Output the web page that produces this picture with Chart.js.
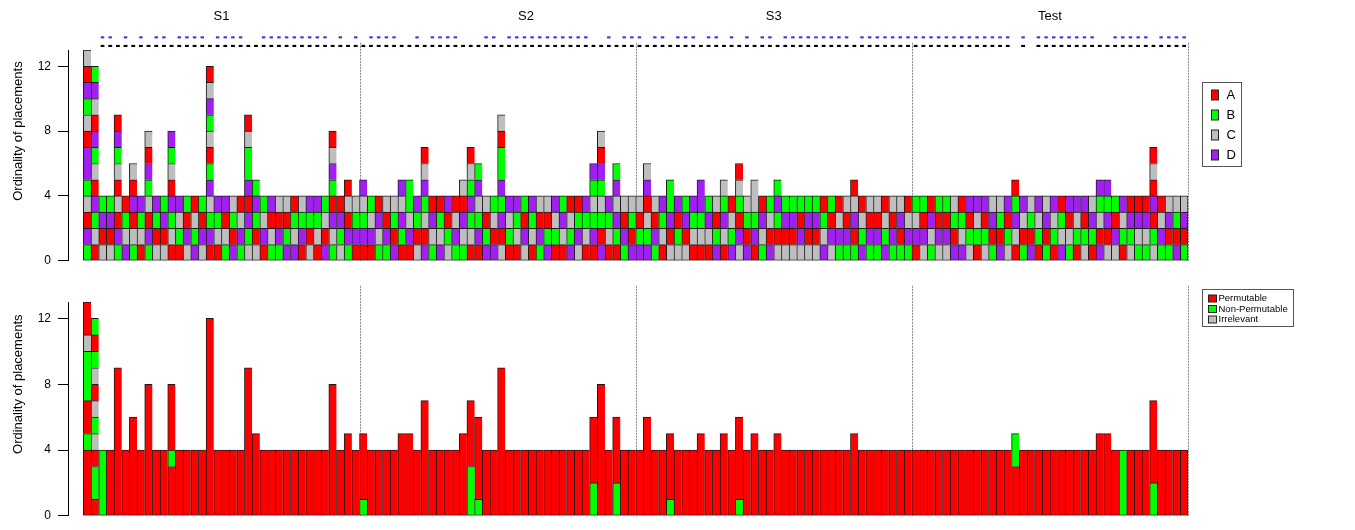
<!DOCTYPE html>
<html>
<head>
<meta charset="utf-8">
<script src="https://cdn.jsdelivr.net/npm/chart.js@4.4.1/dist/chart.umd.min.js"></script>
<style>
  html, body { margin: 0; padding: 0; background: #fff; }
  #wrap { position: relative; width: 1355px; height: 530px; }
  .panel { position: absolute; left: 0; width: 1355px; }
  #topPanel { top: 0; height: 275px; }
  #bottomPanel { top: 275px; height: 255px; }
</style>
</head>
<body>
<div id="wrap">
  <div class="panel" id="topPanel"><canvas id="orderChart"></canvas></div>
  <div class="panel" id="bottomPanel"><canvas id="permChart"></canvas></div>
</div>
<script>
// Placement sequences per trial, bottom to top (A, B, C, D = object placed)
const sections = ['S1', 'S2', 'S3', 'Test'];
const sectionLabelTrial = [17.5, 57.2, 89.5, 125.5];
const perSection = 36;
const yTicks = [0, 4, 8, 12];

const s1Objects = [
  'BDACBDDACBDAC', 'ACBDACBDACDB', 'CADB', 'CADB', 'BDACACBDA', 'DCBA', 'BCADAC', 'ACBD', 'BDACBDAC',
  'CABD', 'CADB', 'ACBDACBD', 'ABCD', 'CDAB', 'DBCA', 'CDAB', 'ADBCDBACBDCA', 'ACBD',
  'BCAD', 'DABC', 'BDCA', 'CBDADBBCA', 'CABDB', 'ADCB', 'BCAD', 'BDAC', 'DBAC',
  'DCBA', 'ADBC', 'CABD', 'ACBD', 'DACB', 'BCDABDCA', 'CBDA', 'BDACA', 'ADBC'
];
const s2Objects = [
  'ADBCD', 'ADCB', 'BCDA', 'BDAC', 'DABC', 'ABDCD', 'ADCBB', 'CABD', 'DACBDCA',
  'BCDA', 'DCBA', 'CBAD', 'BDCA', 'BCDAC', 'ACBDBCA', 'ADBCDB', 'DBAC', 'DACB',
  'CADBDBBAC', 'ABCD', 'ACBD', 'CDAB', 'ACBD', 'BDAC', 'DBAC', 'ABCD', 'ACDB',
  'DBCA', 'CDBA', 'ACBD', 'ADBCBD', 'DABCBDAC', 'ACBD', 'ABDCDB', 'BDAC', 'DABC'
];
const s3Objects = [
  'DBAC', 'DBCADC', 'BDAC', 'ACBD', 'CADBB', 'CBAD', 'CADB', 'ACBD', 'ACBDD',
  'ACDB', 'DBAC', 'ACDBC', 'DBCA', 'CDABCA', 'DABC', 'ADBCC', 'BCDA', 'DACB',
  'CABDB', 'CADB', 'CADB', 'CDAB', 'CADB', 'CADB', 'DCBA', 'CDAB', 'BDCA',
  'BDAC', 'BADCA', 'DBCA', 'BDAC', 'BDAC', 'DBCA', 'BDAC', 'BADC', 'BDCA'
];
const testObjects = [
  'ADCB', 'CDAB', 'BCDA', 'CDAB', 'CDAB', 'DABC', 'DCBA', 'CBAD', 'ABCD',
  'CBAD', 'BADC', 'DABC', 'CBAD', 'ACDBA', 'BACD', 'DABC', 'ABCD', 'BADC',
  'ABCD', 'DCBA', 'BCAD', 'ABCD', 'CBAD', 'ABDC', 'DACBD', 'CADBD', 'CDAB',
  'ABCD', 'CBDA', 'BCDA', 'BCDA', 'CBADACA', 'BDCA', 'BADC', 'DABC', 'BADC'
];

// Same placements classified: P = Permutable, N = Non-Permutable, I = Irrelevant
const s1Perm = [
  'PPPPNPPNNNIPP', 'PNNPINIPINPN', 'NNNN', 'PPPP', 'PPPPPPPPP', 'PPPP', 'PPPPPP', 'PPPP', 'PPPPPPPP',
  'PPPP', 'PPPP', 'PPPNPPPP', 'PPPP', 'PPPP', 'PPPP', 'PPPP', 'PPPPPPPPPPPP', 'PPPP',
  'PPPP', 'PPPP', 'PPPP', 'PPPPPPPPP', 'PPPPP', 'PPPP', 'PPPP', 'PPPP', 'PPPP',
  'PPPP', 'PPPP', 'PPPP', 'PPPP', 'PPPP', 'PPPPPPPP', 'PPPP', 'PPPPP', 'PPPP'
];
const s2Perm = [
  'NPPPP', 'PPPP', 'PPPP', 'PPPP', 'PPPP', 'PPPPP', 'PPPPP', 'PPPP', 'PPPPPPP',
  'PPPP', 'PPPP', 'PPPP', 'PPPP', 'PPPPP', 'NNNPPPP', 'NPPPPP', 'PPPP', 'PPPP',
  'PPPPPPPPP', 'PPPP', 'PPPP', 'PPPP', 'PPPP', 'PPPP', 'PPPP', 'PPPP', 'PPPP',
  'PPPP', 'PPPP', 'PPPP', 'NNPPPP', 'PPPPPPPP', 'PPPP', 'NNPPPP', 'PPPP', 'PPPP'
];
const s3Perm = [
  'PPPP', 'PPPPPP', 'PPPP', 'PPPP', 'NPPPP', 'PPPP', 'PPPP', 'PPPP', 'PPPPP',
  'PPPP', 'PPPP', 'PPPPP', 'PPPP', 'NPPPPP', 'PPPP', 'PPPPP', 'PPPP', 'PPPP',
  'PPPPP', 'PPPP', 'PPPP', 'PPPP', 'PPPP', 'PPPP', 'PPPP', 'PPPP', 'PPPP',
  'PPPP', 'PPPPP', 'PPPP', 'PPPP', 'PPPP', 'PPPP', 'PPPP', 'PPPP', 'PPPP'
];
const testPerm = [
  'PPPP', 'PPPP', 'PPPP', 'PPPP', 'PPPP', 'PPPP', 'PPPP', 'PPPP', 'PPPP',
  'PPPP', 'PPPP', 'PPPP', 'PPPP', 'PPPNN', 'PPPP', 'PPPP', 'PPPP', 'PPPP',
  'PPPP', 'PPPP', 'PPPP', 'PPPP', 'PPPP', 'PPPP', 'PPPPP', 'PPPPP', 'PPPP',
  'NNNN', 'PPPP', 'PPPP', 'PPPP', 'NNPPPPP', 'PPPP', 'PPPP', 'PPPP', 'PPPP'
];

// Trials flagged above the top panel (trial numbers within each section)
const blueFlags = [
  [3, 4, 6, 8, 10, 11, 13, 14, 15, 16, 18, 19, 20, 21, 24, 25, 26, 27, 28, 29, 30, 31, 32, 34, 36],
  [2, 3, 4, 5, 8, 10, 11, 12, 13, 17, 18, 20, 21, 22, 23, 24, 25, 26, 27, 28, 29, 30, 33, 35, 36],
  [1, 3, 4, 6, 7, 8, 10, 11, 13, 15, 17, 18, 20, 21, 22, 23, 24, 25, 26, 27, 28, 30, 31, 32, 33, 34, 35, 36],
  [1, 2, 3, 4, 5, 6, 7, 8, 9, 10, 11, 12, 13, 15, 17, 18, 19, 20, 21, 22, 23, 24, 27, 28, 29, 30, 31, 33, 34, 35, 36]
];
const blackFlags = [
  [3, 4, 5, 6, 7, 8, 9, 10, 11, 12, 13, 14, 15, 16, 17, 18, 19, 20, 21, 22, 23, 24, 25, 26, 27, 28, 29, 30, 31, 32, 33, 34, 35, 36],
  [1, 2, 3, 4, 5, 6, 7, 8, 9, 10, 11, 12, 13, 14, 15, 16, 17, 18, 19, 20, 21, 22, 23, 24, 25, 26, 27, 28, 29, 30, 31, 32, 33, 34, 35, 36],
  [1, 2, 3, 4, 5, 6, 7, 8, 9, 10, 11, 12, 13, 14, 15, 16, 17, 18, 19, 20, 21, 22, 23, 24, 25, 26, 27, 28, 29, 30, 31, 32, 33, 34, 35, 36],
  [1, 2, 3, 4, 5, 6, 7, 8, 9, 10, 11, 12, 13, 15, 17, 18, 19, 20, 21, 22, 23, 24, 25, 26, 27, 28, 29, 30, 31, 32, 33, 34, 35, 36]
];

const objectLabels = ['A', 'B', 'C', 'D'];
const objectColors = { A: '#FF0000', B: '#00FF00', C: '#BEBEBE', D: '#A020F0' };
const permLabels = ['Permutable', 'Non-Permutable', 'Irrelevant'];
const permColors = { P: '#FF0000', N: '#00FF00', I: '#BEBEBE' };

const FONT = "'Liberation Sans', Arial, sans-serif";
Chart.defaults.font.family = FONT;

const allObjects = [...s1Objects, ...s2Objects, ...s3Objects, ...testObjects];
const allPerm = [...s1Perm, ...s2Perm, ...s3Perm, ...testPerm];
const lastIndex = allObjects.length - 1;

// consecutive equal placements are drawn as one block
const toRuns = (seq) => {
  const runs = [];
  for (const ch of seq) {
    const last = runs[runs.length - 1];
    if (last && last.key === ch) last.len++;
    else runs.push({ key: ch, len: 1 });
  }
  return runs;
};

const buildCellDatasets = (columns, colors) => {
  const runs = columns.map(toRuns);
  const depth = Math.max(...runs.map((r) => r.length));
  const sets = [];
  for (let k = 0; k < depth; k++) {
    const points = [];
    const bg = [];
    runs.forEach((r, i) => {
      if (r[k]) {
        points.push({ x: i, y: r[k].len });
        bg.push(colors[r[k].key]);
      }
    });
    sets.push({
      type: 'bar',
      data: points,
      backgroundColor: bg,
      borderColor: '#1a1a1a',
      borderWidth: (ctx) => ({
        top: 1,
        left: 1,
        bottom: k === 0 ? 1 : 0,
        right: ctx.raw && ctx.raw.x === lastIndex ? 1 : 0,
      }),
      borderSkipped: false,
      barPercentage: 1,
      categoryPercentage: 1,
      stack: 'cells',
      yAxisID: 'y',
    });
  }
  return sets;
};

// short floating bars marking the flagged trials
const flagDataset = (flags, level, color, widthShare) => ({
  type: 'bar',
  data: flags.flatMap((cols, s) =>
    cols.map((c) => ({ x: s * perSection + c - 1, y: [level - 0.065, level + 0.065] }))
  ),
  backgroundColor: color,
  borderWidth: 0,
  barPercentage: widthShare,
  categoryPercentage: 1,
  grouped: false,
  yAxisID: 'yFlag',
  clip: false,
});

const panelDecor = {
  id: 'panelDecor',
  beforeDatasetsDraw(chart, args, opts) {
    const { ctx } = chart;
    const x = chart.scales.x;
    const y = chart.scales.y;
    ctx.save();
    ctx.strokeStyle = '#8a8a8a';
    ctx.lineWidth = 1;
    ctx.setLineDash([2, 1]);
    sections.forEach((s, i) => {
      const px = Math.round(x.getPixelForValue((i + 1) * perSection - 0.5)) + 0.5;
      ctx.beginPath();
      ctx.moveTo(px, y.getPixelForValue(0));
      ctx.lineTo(px, y.getPixelForValue(opts.lineTop));
      ctx.stroke();
    });
    ctx.restore();
  },
  afterDraw(chart, args, opts) {
    const { ctx, chartArea } = chart;
    const x = chart.scales.x;
    const y = chart.scales.y;
    ctx.save();
    ctx.fillStyle = '#000';
    ctx.textBaseline = 'middle';

    // axis title
    ctx.save();
    ctx.translate(18, y.getPixelForValue(8));
    ctx.rotate(-Math.PI / 2);
    ctx.textAlign = 'center';
    ctx.font = `13px ${FONT}`;
    ctx.fillText('Ordinality of placements', 0, 0);
    ctx.restore();

    // section names
    if (opts.showSections) {
      ctx.font = `13px ${FONT}`;
      ctx.textAlign = 'center';
      sections.forEach((s, i) => {
        ctx.fillText(s, x.getPixelForValue(sectionLabelTrial[i]), y.getPixelForValue(15.1));
      });
    }

    // legend box
    const lg = opts.legend;
    const bx = chartArea.right + 14.5;
    ctx.strokeStyle = '#555';
    ctx.lineWidth = 1;
    ctx.strokeRect(bx, lg.top + 0.5, lg.width, lg.height);
    ctx.textAlign = 'left';
    ctx.font = `${lg.fontSize}px ${FONT}`;
    lg.labels.forEach((label, i) => {
      const cy = lg.top + lg.first + i * lg.step;
      ctx.fillStyle = lg.colors[i];
      ctx.fillRect(bx + lg.keyX, cy - lg.keyH / 2, lg.keyW, lg.keyH);
      ctx.strokeStyle = '#222';
      ctx.strokeRect(bx + lg.keyX, cy - lg.keyH / 2, lg.keyW, lg.keyH);
      ctx.fillStyle = '#000';
      ctx.fillText(label, bx + lg.textX, cy);
    });
    ctx.restore();
  },
};

const yAxis = {
  min: 0,
  max: 13,
  stacked: true,
  afterBuildTicks: (s) => {
    s.ticks = yTicks.map((v) => ({ value: v }));
  },
  afterFit: (s) => {
    s.width = 68;
  },
  grid: { drawOnChartArea: false, drawTicks: true, tickLength: 10, color: '#000', tickColor: '#000' },
  border: { display: true, color: '#000', width: 1 },
  ticks: { color: '#000', padding: 7, font: { size: 12, family: FONT } },
};

const xAxis = { type: 'linear', min: -2.5, max: lastIndex + 0.5, offset: false, display: false };

new Chart(document.getElementById('orderChart'), {
  type: 'bar',
  data: {
    datasets: [
      ...buildCellDatasets(allObjects, objectColors),
      flagDataset(blueFlags, 13.78, '#3a3ad6', 0.45),
      flagDataset(blackFlags, 13.25, '#000000', 0.5),
    ],
  },
  options: {
    responsive: true,
    maintainAspectRatio: false,
    animation: false,
    events: [],
    layout: { padding: { top: 50, right: 167, bottom: 9, left: 0 } },
    plugins: {
      legend: { display: false },
      tooltip: { enabled: false },
      panelDecor: {
        lineTop: 13.45,
        showSections: true,
        legend: {
          top: 82, width: 39, height: 84, first: 13, step: 20,
          keyX: 9, keyW: 7, keyH: 10, textX: 24, fontSize: 13,
          labels: objectLabels,
          colors: objectLabels.map((k) => objectColors[k]),
        },
      },
    },
    scales: {
      x: xAxis,
      y: yAxis,
      yFlag: { type: 'linear', min: 0, max: 13, display: false },
    },
  },
  plugins: [panelDecor],
});

new Chart(document.getElementById('permChart'), {
  type: 'bar',
  data: { datasets: buildCellDatasets(allPerm, permColors) },
  options: {
    responsive: true,
    maintainAspectRatio: false,
    animation: false,
    events: [],
    layout: { padding: { top: 27, right: 167, bottom: 13, left: 0 } },
    plugins: {
      legend: { display: false },
      tooltip: { enabled: false },
      panelDecor: {
        lineTop: 14,
        showSections: false,
        legend: {
          top: 14, width: 91, height: 37, first: 9.5, step: 10.5,
          keyX: 6, keyW: 8, keyH: 7, textX: 16, fontSize: 9.5,
          labels: permLabels,
          colors: ['P', 'N', 'I'].map((k) => permColors[k]),
        },
      },
    },
    scales: { x: xAxis, y: yAxis },
  },
  plugins: [panelDecor],
});
</script>
</body>
</html>
